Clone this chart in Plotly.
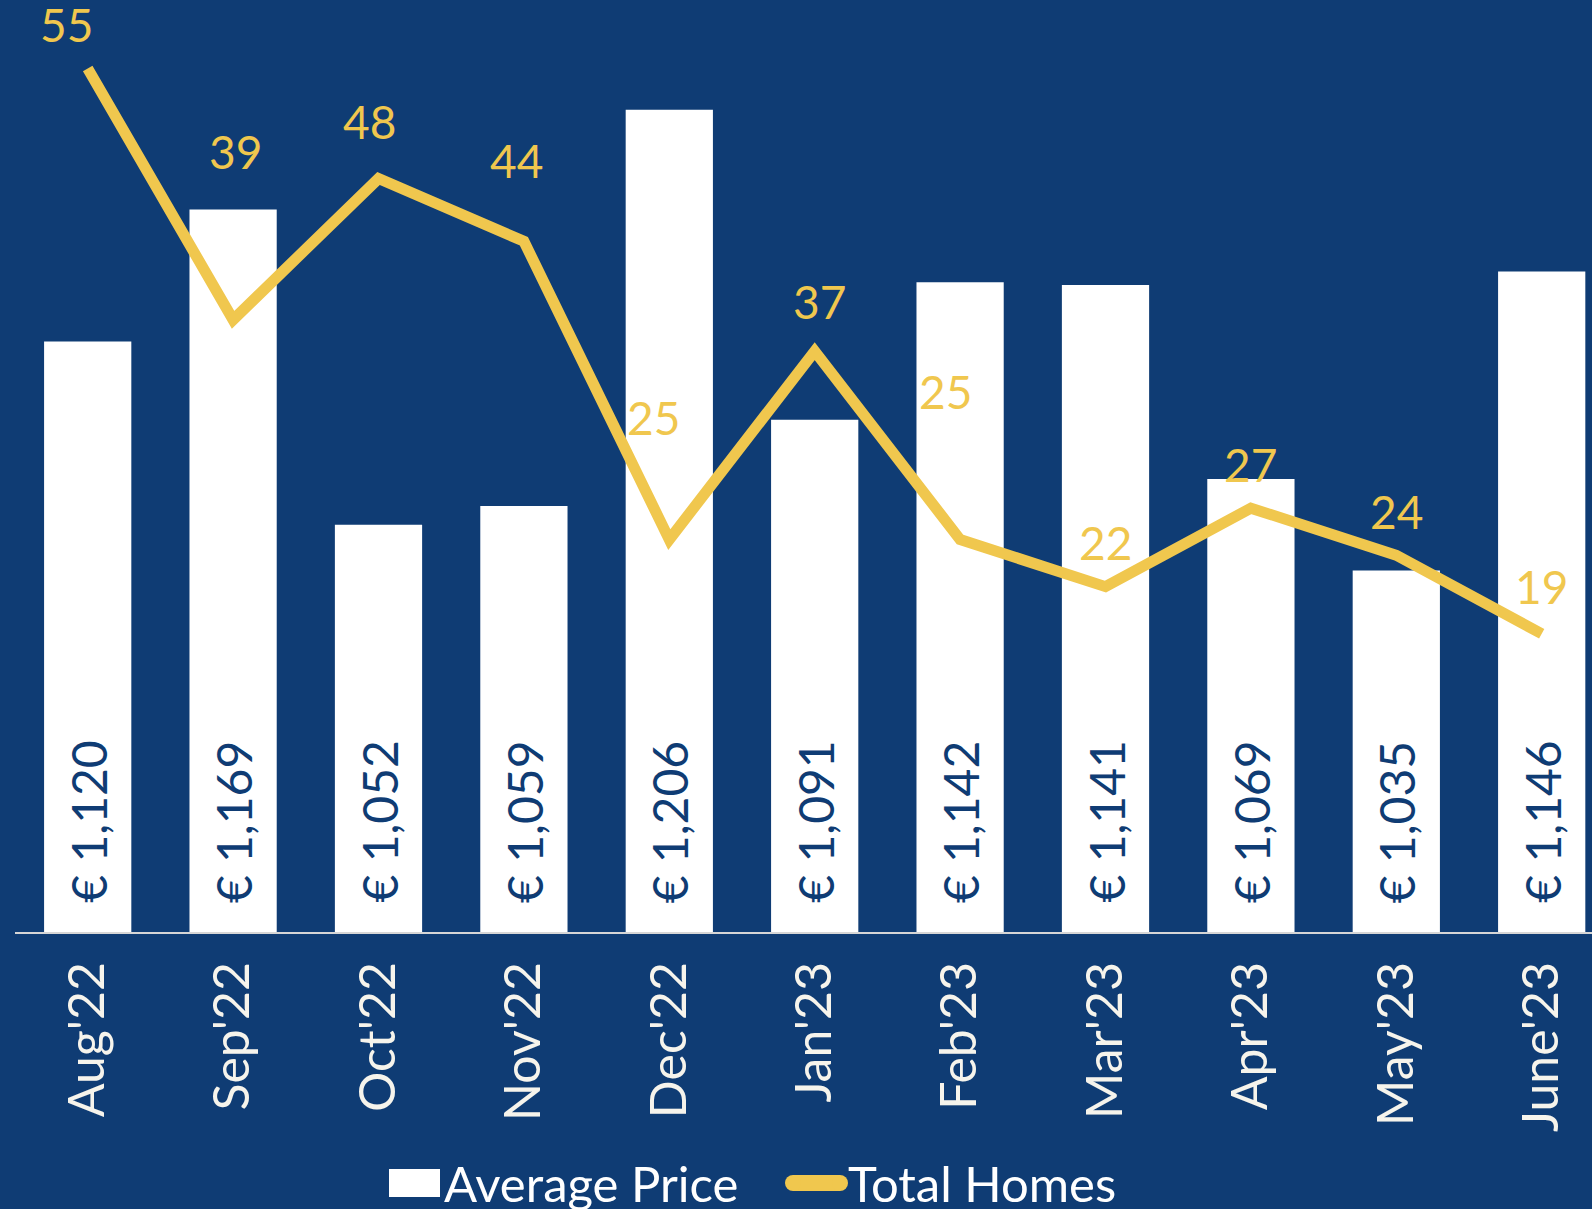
import plotly.graph_objects as go

# ---- data ----
months = ["Aug'22", "Sep'22", "Oct'22", "Nov'22", "Dec'22", "Jan'23",
          "Feb'23", "Mar'23", "Apr'23", "May'23", "June'23"]
avg_price = [1120, 1169, 1052, 1059, 1206, 1091, 1142, 1141, 1069, 1035, 1146]
total_homes = [55, 39, 48, 44, 25, 37, 25, 22, 27, 24, 19]

# ---- style ----
BG = "#0f3c74"
YELLOW = "#f0c74e"
WHITE = "#ffffff"
TICK = "#f6f4ec"
FONT = "Lato"

W, H = 1592, 1209
ML, MR, MT, MB = 15, 0, 0, 277
PW, PH = W - ML - MR, H - MT - MB

# manual label nudges (px) for the line labels, as placed in the reference
lab_dx = [-21, 2, -9, -7, -16, 5, -15, 0, 0, 0, 0]
lab_dy = [44, 168, 57, 81, 122, 50, 148, 44, 44, 44, 47]

fig = go.Figure()
fig.add_trace(go.Bar(x=months, y=avg_price, name="Average Price",
                     marker=dict(color=WHITE, line=dict(width=0)), width=0.6,
                     yaxis="y", showlegend=False, hoverinfo="skip"))
fig.add_trace(go.Scatter(x=months, y=total_homes, name="Total Homes", mode="lines",
                         line=dict(color=YELLOW, width=11), yaxis="y2",
                         showlegend=False, hoverinfo="skip"))

ann = []
PRICE_MIN = 900.9
for m, v in zip(months, avg_price):
    ann.append(dict(x=m, y=PRICE_MIN, xref="x", yref="y", text=f"€ {v:,}",
                    textangle=-90, showarrow=False, xanchor="center", yanchor="bottom",
                    yshift=27, font=dict(family=FONT, size=48, color=BG)))
for m, v, dx, dy in zip(months, total_homes, lab_dx, lab_dy):
    ann.append(dict(x=m, y=v, xref="x", yref="y2", text=str(v), showarrow=False,
                    xanchor="center", yanchor="middle", xshift=dx, yshift=dy,
                    font=dict(family=FONT, size=46, color=YELLOW)))

def px_x(p):
    return (p - ML) / PW

def px_y(p):
    return (MT + PH - p) / PH

shapes = [
    dict(type="rect", xref="paper", yref="paper", x0=px_x(389), x1=px_x(440),
         y0=px_y(1197), y1=px_y(1169), fillcolor=WHITE, line=dict(width=0)),
    dict(type="line", xref="paper", yref="paper", x0=px_x(793), x1=px_x(840),
         y0=px_y(1183), y1=px_y(1183), line=dict(color=YELLOW, width=16)),
    dict(type="circle", xref="paper", yref="paper", x0=px_x(785), x1=px_x(801),
         y0=px_y(1191), y1=px_y(1175), fillcolor=YELLOW, line=dict(width=0)),
    dict(type="circle", xref="paper", yref="paper", x0=px_x(832), x1=px_x(848),
         y0=px_y(1191), y1=px_y(1175), fillcolor=YELLOW, line=dict(width=0)),
]
ann.append(dict(xref="paper", yref="paper", x=px_x(442), y=px_y(1183), text="Average Price",
                showarrow=False, xanchor="left", yanchor="middle",
                font=dict(family=FONT, size=49, color=WHITE)))
ann.append(dict(xref="paper", yref="paper", x=px_x(846), y=px_y(1183), text="Total Homes",
                showarrow=False, xanchor="left", yanchor="middle",
                font=dict(family=FONT, size=49, color=WHITE)))

fig.update_layout(
    width=W, height=H,
    margin=dict(l=ML, r=MR, t=MT, b=MB, pad=0),
    paper_bgcolor=BG, plot_bgcolor=BG,
    bargap=0.4,
    xaxis=dict(type="category", range=[-0.5, -0.5 + PW / 145.4],
               tickangle=-90, tickfont=dict(family=FONT, size=50, color=TICK),
               showline=True, linecolor="#d6d6d6", linewidth=2,
               showgrid=False, zeroline=False, ticks="", ticklabelstandoff=8),
    yaxis=dict(range=[PRICE_MIN, 1246.7], visible=False, showgrid=False, zeroline=False),
    yaxis2=dict(range=[0, 59.37], overlaying="y", visible=False, showgrid=False,
                zeroline=False),
    annotations=ann, shapes=shapes, showlegend=False,
)

fig.write_html(
    "out.html",
    config={"displayModeBar": False, "staticPlot": True},
    post_script="document.body.style.margin='0';document.body.style.overflow='hidden';"
                "document.body.style.background='" + BG + "';",
)
